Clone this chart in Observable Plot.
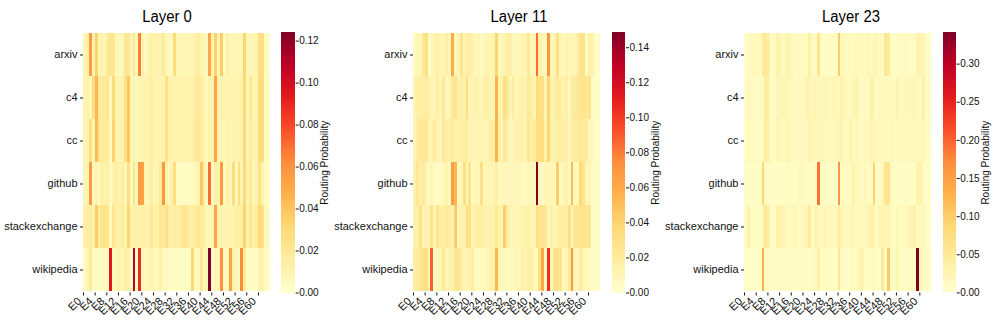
<!DOCTYPE html>
<html>
<head>
<meta charset="utf-8">
<script src="https://cdn.jsdelivr.net/npm/d3@7"></script>
<script src="https://cdn.jsdelivr.net/npm/@observablehq/plot@0.6"></script>
<style>
html,body{margin:0;padding:0;background:#fff}
#chart{position:relative;width:996px;height:325px;overflow:hidden}
#chart svg{position:absolute;background:transparent}
.ttl{position:absolute;font:16px "Liberation Sans",sans-serif;color:#000;transform:translateX(-50%) scaleX(.93);white-space:nowrap}
</style>
</head>
<body>
<div id="chart"></div>
<script>
// Category labels
const datasets = ["arxiv","c4","cc","github","stackexchange","wikipedia"];
const expertTicks = [0,4,8,12,16,20,24,28,32,36,40,44,48,52,56,60];

// Routing probabilities in thousandths, one array per dataset and layer (64 experts each)
const l0_arxiv = [8,13,56,10,34,5,11,8, 17,22,20,6,6,6,20,20, 7,21,5,65,10,4,10,13, 10,11,11,17,7,7,5,28, 8,8,8,8,8,8,13,15, 10,6,6,52,10,34,8,36, 4,13,8,8,8,8,8,32, 7,8,8,10,26,26,4,2];
const l0_c4 = [10,11,8,26,45,17,17,17, 20,5,30,10,10,10,24,38, 8,8,8,8,10,10,10,15, 10,10,10,11,24,11,10,11, 10,11,11,11,10,11,17,17, 15,11,7,10,10,52,10,10, 10,10,10,10,10,10,10,30, 7,20,10,10,28,28,3,3];
const l0_cc = [9,11,26,8,43,20,17,17, 17,4,34,10,10,10,26,38, 8,8,8,8,10,10,10,15, 10,10,10,11,24,11,10,11, 10,11,11,11,10,11,17,20, 15,11,7,10,10,52,10,8, 8,10,10,10,10,10,10,30, 7,17,10,10,28,28,3,3];
const l0_github = [8,10,56,5,10,4,13,11, 13,5,11,15,10,15,7,26, 5,24,5,56,54,8,8,15, 7,10,17,58,10,5,10,28, 3,3,3,3,4,4,7,10, 38,15,4,70,4,13,10,56, 4,13,8,28,5,26,10,30, 10,17,8,10,24,11,3,2];
const l0_stackexchange = [13,15,15,11,36,13,22,24, 22,5,22,13,13,17,10,32, 11,13,11,13,13,11,11,20, 13,13,20,17,24,15,13,13, 15,15,22,20,13,13,17,20, 17,15,8,7,10,52,10,10, 10,10,10,10,13,13,13,34, 10,22,13,17,30,26,5,3];
const l0_wikipedia = [4,8,17,4,3,3,3,3, 3,95,5,8,11,7,13,13, 5,108,4,88,7,5,7,10, 7,5,13,4,4,3,3,3, 3,3,2,2,3,32,4,5, 20,4,10,124,4,5,8,60, 4,7,52,11,5,5,62,17, 3,3,3,3,11,11,3,2];

const l11_arxiv = [5,10,8,24,32,2,7,11, 15,10,10,17,10,60,7,11, 26,11,17,17,13,7,10,5, 8,11,10,13,38,7,10,11, 17,15,7,8,7,10,10,22, 7,10,84,13,10,8,70,8, 11,30,10,7,11,10,10,10, 15,28,28,4,17,13,2,2];
const l11_c4 = [11,15,17,17,20,15,10,11, 17,10,22,7,10,22,26,13, 17,13,30,8,11,13,11,10, 13,17,10,10,56,11,11,32, 22,10,17,7,13,13,11,22, 17,10,36,32,32,11,38,11, 15,20,15,13,17,7,20,20, 22,26,26,24,26,5,2,2];
const l11_cc = [10,20,22,22,24,10,10,20, 11,10,22,17,17,20,13,13, 17,17,20,10,10,10,11,11, 11,11,15,17,56,13,10,22, 13,8,10,13,11,13,11,26, 15,20,32,32,32,13,38,13, 13,17,17,17,15,8,15,20, 20,22,20,20,10,7,3,2];
const l11_github = [13,24,15,22,8,3,10,4, 4,4,7,13,7,66,54,7, 8,32,7,28,5,10,10,30, 7,10,10,10,15,7,8,8, 8,8,8,8,8,5,5,7, 7,8,148,7,4,10,10,8, 7,43,4,10,13,5,52,5, 7,36,26,10,8,3,2,2];
const l11_stackexchange = [13,15,28,11,13,10,26,11, 26,17,17,20,20,11,43,10, 13,13,32,28,10,17,17,17, 13,11,13,13,22,13,11,43, 17,10,10,10,10,13,13,15, 10,10,30,26,26,22,8,15, 10,13,17,17,17,30,10,22, 26,26,26,26,26,4,2,2];
const l11_wikipedia = [17,20,22,30,32,7,88,3, 10,10,22,10,11,13,26,26, 17,10,10,13,17,5,5,5, 4,10,13,13,54,8,8,7, 5,7,7,10,8,13,11,17, 17,7,7,32,62,5,104,10, 28,28,26,7,10,20,68,8, 7,20,11,7,4,3,2,2];

const l23_arxiv = [4,14,14,14,14,14,50,50, 40,8,12,30,20,10,24,26, 14,10,12,12,12,10,36,12, 10,60,10,8,8,8,10,10, 100,14,20,14,12,14,20,14, 14,12,18,14,20,20,12,10, 56,50,8,8,8,10,10,10, 8,8,12,30,26,26,10,6];
const l23_c4 = [6,16,10,10,10,10,10,44, 36,8,10,22,24,24,22,20, 12,12,12,14,12,26,24,20, 22,20,14,22,22,16,22,22, 14,30,24,14,14,22,30,14, 10,14,14,36,20,12,14,14, 12,14,16,12,24,10,14,18, 14,18,22,14,14,36,8,6];
const l23_cc = [6,14,12,10,12,10,14,38, 34,8,10,26,18,14,22,22, 12,12,12,12,14,14,30,22, 18,14,18,20,14,14,14,20, 22,26,14,12,26,14,20,12, 12,18,14,28,22,18,14,14, 14,12,18,14,14,14,16,14, 14,16,14,14,14,22,8,6];
const l23_github = [5,5,6,6,6,6,88,12, 6,6,6,6,8,8,12,12, 8,6,12,14,14,8,8,10, 10,190,6,6,8,6,6,6, 160,10,10,12,12,30,14,14, 10,16,8,12,90,6,8,20, 60,60,12,8,6,6,6,6, 6,6,6,32,30,10,4,4];
const l23_stackexchange = [4,30,10,8,8,10,20,52, 40,10,10,34,32,24,14,14, 18,18,10,14,16,18,48,12, 24,22,14,24,14,18,14,22, 44,26,14,14,20,22,14,14, 14,14,30,36,22,10,26,22, 22,30,14,8,20,14,14,14, 26,26,38,14,14,22,6,4];
const l23_wikipedia = [4,4,4,4,4,4,130,6, 5,8,8,10,10,6,12,12, 6,6,8,10,6,6,8,10, 12,36,8,8,8,8,8,8, 56,6,6,8,10,12,10,24, 30,8,8,12,14,10,6,48, 8,100,12,10,24,6,6,6, 8,8,8,342,28,6,5,5];

const layers = [
  {title:"Layer 0", rows:[l0_arxiv,l0_c4,l0_cc,l0_github,l0_stackexchange,l0_wikipedia], max:0.1241,
   ticks:[0,0.02,0.04,0.06,0.08,0.10,0.12], x0:82.7, x1:269.3, cx0:281, cx1:294.7, titleX:166.5, labelX:328},
  {title:"Layer 11", rows:[l11_arxiv,l11_c4,l11_cc,l11_github,l11_stackexchange,l11_wikipedia], max:0.1487,
   ticks:[0,0.02,0.04,0.06,0.08,0.10,0.12,0.14], x0:413.3, x1:600, cx0:612, cx1:625, titleX:518.5, labelX:658},
  {title:"Layer 23", rows:[l23_arxiv,l23_c4,l23_cc,l23_github,l23_stackexchange,l23_wikipedia], max:0.3415,
   ticks:[0,0.05,0.10,0.15,0.20,0.25,0.30], x0:744.3, x1:931.3, cx0:943.3, cx1:956, titleX:850.5, labelX:989}
];

const plotTop = 32, plotBottom = 292.5, font = "'Liberation Sans',sans-serif";
const chart = document.getElementById("chart");

function colorScale(max){
  return {type:"linear", domain:d3.range(9).map(i => max*i/8), range:d3.schemeYlOrRd[9], clamp:true};
}

for (const L of layers) {
  const t = document.createElement("div");
  t.className = "ttl"; t.textContent = L.title;
  t.style.left = L.titleX + "px"; t.style.top = "8px";
  chart.appendChild(t);

  const cells = L.rows.flatMap((row,r) => row.map((v,i) => ({i, d:datasets[r], v:v/1000})));
  const heat = Plot.plot({
    width: L.x1 - L.x0 + 90, height: 325,
    marginLeft: 85, marginRight: 5, marginTop: plotTop, marginBottom: 325 - plotBottom,
    style:{fontFamily:font, fontSize:"11px", color:"#111", background:"transparent"},
    x:{type:"linear", domain:[0,64]},
    y:{type:"band", domain:datasets, padding:0},
    color:colorScale(L.max),
    marks:[
      Plot.barX(cells,{x1:"i", x2:d=>d.i+1, y:"d", fill:"v", shapeRendering:"crispEdges"}),
      Plot.axisX({ticks:expertTicks, fill:"none", tickSize:3, label:null}),
      Plot.axisX({ticks:expertTicks, stroke:"none", tickFormat:d=>"E"+d, tickRotate:-45, tickSize:3, tickPadding:2, label:null, fontSize:11, dx:-4, dy:1.5}),
      Plot.axisY({fill:"none", tickSize:3, label:null}),
      Plot.axisY({stroke:"none", tickSize:3, tickPadding:3, label:null, fontSize:11, dy:-1})
    ]
  });
  heat.style.left = (L.x0 - 85) + "px"; heat.style.top = "0px";
  chart.appendChild(heat);

  const step = L.max/256;
  const ramp = d3.range(256).map(i => i*step);
  const bar = Plot.plot({
    width: L.labelX + 6 - L.cx0, height: 325,
    marginLeft: 0, marginRight: L.labelX + 6 - L.cx1, marginTop: plotTop, marginBottom: 325 - plotBottom,
    style:{fontFamily:font, fontSize:"10px", color:"#111", background:"transparent"},
    y:{type:"linear", domain:[0,L.max]},
    color:colorScale(L.max),
    marks:[
      Plot.rect(ramp,{y1:d=>d, y2:d=>d+step, fill:d=>d, shapeRendering:"crispEdges"}),
      Plot.axisY({anchor:"right", ticks:L.ticks, tickFormat:d3.format(".2f"), tickSize:3, tickPadding:1, fontSize:10,
        label:"Routing Probability", labelAnchor:"center", labelArrow:"none", labelOffset:L.labelX - L.cx1})
    ]
  });
  bar.style.left = L.cx0 + "px"; bar.style.top = "0px";
  chart.appendChild(bar);
}
</script>
</body>
</html>
